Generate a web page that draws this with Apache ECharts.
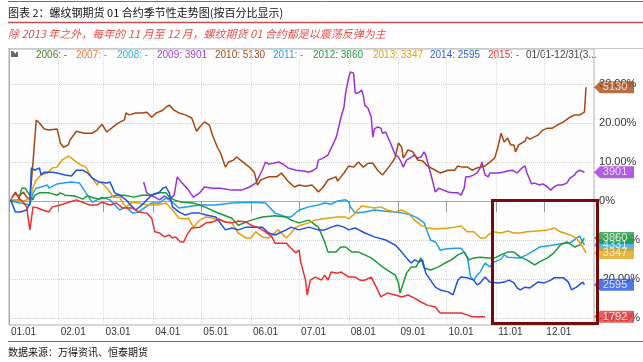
<!DOCTYPE html>
<html><head><meta charset="utf-8">
<script src="https://cdn.jsdelivr.net/npm/echarts@6/dist/echarts.min.js"></script>
<style>html,body{margin:0;padding:0;background:#fff;}#c{width:643px;height:362px;}</style>
</head><body><div id="c"></div>
<script>
// ---------- data ----------
const monthLabels = ['01.01','02.01','03.01','04.01','05.01','06.01','07.01','08.01','09.01','10.01','11.01','12.01'];
const monthStartDays = [0,31,59,90,120,151,181,212,243,273,304,334];
const yTickValues = [-30,-20,-10,0,10,20,30];
const legendYears = ['2006','2007','2008','2009','2010','2011','2012','2013','2014','2015'];
const legendValues = ['-','-','-','3901','5130','-','3860','3347','2595','-'];
const seriesYears = ['2009','2010','2011','2012','2013','2014','2015'];
const lastPrices = ['3901','5130','4331','3860','3347','2595','1792'];

const s2009 = [[84,4.9],[86,2.1],[88,1.5],[91,1.0],[94,0.3],[97,1.3],[100,0.5],[103,1.5],[105,6.2],[108,4.6],[112,2.8],[115,1.0],[119,2.1],[122,3.6],[127,3.3],[132,3.3],[139,2.8],[145,2.8],[150,3.6],[154,4.6],[158,7.9],[160,10.0],[162,9.5],[165,9.7],[168,10.0],[171,9.5],[174,8.5],[179,7.9],[184,7.7],[187,7.4],[190,7.9],[192,8.5],[193,10.5],[196,11.0],[199,11.8],[202,14.4],[204,16.2],[205,17.7],[207,21.3],[209,24.1],[210,27.7],[212,31.8],[213,33.1],[214,33.6],[215,32.8],[216,27.7],[218,27.7],[219,27.9],[220,28.5],[221,27.2],[222,24.6],[224,23.8],[226,21.5],[227,16.4],[228,18.5],[230,19.0],[232,18.7],[233,17.4],[235,17.7],[238,14.9],[241,11.8],[243,11.3],[245,9.7],[246,8.7],[248,10.5],[250,11.0],[251,10.8],[253,11.8],[255,11.0],[257,11.3],[259,12.6],[260,11.8],[263,7.2],[266,2.3],[268,3.3],[269,3.1],[274,2.3],[277,2.1],[280,2.1],[282,1.5],[284,3.3],[285,6.2],[287,6.2],[290,6.7],[292,7.2],[294,8.5],[295,10.0],[297,6.7],[299,6.2],[300,7.2],[305,7.2],[308,7.4],[311,7.7],[314,7.9],[317,7.2],[320,8.5],[322,9.0],[323,7.4],[326,4.4],[328,4.6],[331,4.1],[333,4.4],[336,3.6],[338,2.8],[340,3.6],[342,4.1],[345,4.1],[348,4.6],[350,5.9],[353,6.7],[354,7.4],[356,7.9],[359,7.4]];

const s2010 = [[2,1.0],[4,2.3],[5,1.5],[7,1.5],[9,2.3],[11,1.0],[13,0.5],[14,0.3],[15,10.0],[17,20.8],[19,20.0],[22,18.5],[25,18.2],[30,18.5],[31,16.9],[32,14.9],[34,13.8],[37,14.4],[38,15.6],[42,17.9],[47,17.4],[52,17.4],[55,18.2],[58,19.7],[61,17.7],[64,18.7],[68,20.0],[72,20.8],[73,22.6],[75,22.1],[79,22.6],[83,22.6],[86,22.8],[89,21.5],[92,22.6],[96,23.3],[98,24.1],[100,24.6],[103,23.3],[106,22.6],[110,22.1],[114,21.3],[117,17.9],[119,19.0],[122,20.3],[125,19.5],[127,16.9],[130,13.8],[132,12.3],[135,8.7],[137,10.0],[140,10.5],[142,11.3],[145,10.3],[150,8.7],[153,7.4],[155,4.1],[157,5.4],[162,6.2],[167,6.2],[170,7.2],[174,5.1],[178,3.6],[181,4.1],[185,3.8],[189,4.1],[191,3.3],[193,2.3],[196,3.6],[199,5.4],[204,6.2],[205,5.1],[209,7.2],[212,9.0],[215,8.7],[218,10.0],[221,8.7],[224,9.7],[227,9.7],[230,7.9],[233,6.7],[236,8.2],[240,10.5],[241,11.3],[243,14.9],[245,13.8],[246,11.0],[249,13.1],[252,12.6],[255,10.5],[258,10.3],[261,9.0],[266,7.9],[269,7.2],[274,7.9],[278,7.9],[280,9.0],[283,8.7],[286,8.7],[289,7.9],[292,8.5],[297,9.0],[300,10.0],[303,11.0],[305,13.8],[307,17.4],[309,15.1],[311,16.2],[313,14.4],[315,14.4],[316,12.6],[318,14.4],[322,15.4],[323,16.4],[325,15.9],[330,16.9],[333,18.2],[336,18.7],[339,18.7],[342,19.5],[346,20.3],[350,21.5],[353,22.1],[356,22.1],[359,22.8],[360,29.2]];

const s2011 = [[1,0],[7,-0.5],[13,-1.0],[15,2.1],[17,3.3],[20,3.6],[24,4.1],[25,3.3],[30,4.4],[34,4.6],[39,4.9],[44,4.6],[48,2.1],[52,-0.3],[55,0.3],[58,1.0],[63,0.3],[69,-2.3],[73,-1.5],[77,-3.1],[81,-2.8],[86,-1.3],[89,-0.5],[94,-0.5],[98,0.8],[102,-0.3],[106,-1.8],[119,-1.0],[129,-1.0],[139,-0.5],[151,-0.3],[160,-0.5],[166,-3.1],[173,-4.1],[176,-4.1],[181,-2.3],[187,-1.5],[193,-1.0],[197,-0.5],[201,-0.8],[205,0],[210,0.3],[212,-0.3],[213,-1.5],[216,-3.1],[222,-2.8],[228,-2.3],[235,-2.6],[241,-2.8],[246,-3.1],[251,-3.6],[255,-4.4],[259,-5.6],[261,-7.9],[263,-10.0],[266,-10.5],[268,-11.8],[269,-12.6],[272,-12.3],[278,-12.1],[282,-12.1],[284,-13.1],[286,-14.6],[287,-16.9],[288,-19.5],[290,-20.3],[292,-19.0],[294,-18.2],[297,-15.9],[300,-16.9],[303,-15.6],[307,-14.9],[309,-13.8],[311,-14.4],[319,-14.6],[323,-13.8],[328,-12.6],[331,-11.8],[340,-11.3],[346,-10.8],[350,-10.8],[354,-9.5],[356,-9.0],[359,-11.3]];

const s2012 = [[1,0],[6,0.3],[8,3.3],[10,3.3],[12,2.1],[15,0.3],[16,1.5],[19,2.1],[25,2.1],[30,1.5],[32,2.1],[35,1.5],[41,1.3],[44,0.8],[46,0.5],[49,1.3],[53,0.8],[56,0.5],[63,1.0],[67,1.5],[72,1.5],[78,1.0],[83,1.5],[88,1.5],[94,2.1],[98,2.1],[100,1.0],[103,0.3],[108,-0.3],[115,-0.5],[122,-1.5],[129,-2.8],[139,-4.4],[143,-6.2],[151,-4.9],[158,-4.1],[166,-3.8],[173,-4.1],[176,-4.9],[181,-5.6],[187,-4.9],[193,-6.7],[197,-10.5],[199,-13.1],[204,-13.1],[207,-11.8],[210,-11.8],[214,-13.1],[218,-13.1],[222,-13.8],[226,-14.6],[230,-15.9],[233,-16.9],[236,-17.7],[241,-19.0],[243,-21.0],[244,-23.6],[246,-21.0],[248,-18.5],[251,-16.9],[254,-16.9],[257,-14.6],[259,-17.2],[263,-17.7],[268,-16.9],[272,-15.9],[276,-15.1],[280,-13.8],[284,-13.1],[287,-15.1],[290,-14.6],[294,-14.4],[299,-14.6],[303,-14.6],[307,-13.8],[311,-13.1],[315,-13.1],[319,-14.4],[323,-15.1],[328,-16.4],[331,-15.6],[336,-14.6],[340,-13.3],[344,-11.3],[348,-10.5],[353,-11.8],[356,-11.3],[359,-9.5]];

const s2013 = [[2,0.3],[9,0],[13,0.5],[15,3.6],[17,5.4],[20,6.7],[24,7.2],[27,8.5],[30,8.7],[33,10.5],[35,11.0],[37,11.5],[39,11.0],[42,10.0],[45,9.2],[48,8.7],[50,7.2],[52,5.9],[55,4.1],[56,4.9],[58,4.6],[61,3.3],[63,2.3],[65,1.0],[69,1.0],[71,-0.5],[73,-1.5],[77,-0.3],[81,-0.5],[86,-1.0],[92,-1.0],[98,-0.5],[102,-2.3],[106,-4.4],[110,-4.6],[112,-4.4],[115,-6.7],[119,-4.9],[123,-4.1],[127,-4.4],[131,-4.9],[135,-5.4],[139,-5.6],[143,-8.2],[148,-9.5],[151,-9.5],[154,-7.9],[158,-9.2],[162,-9.5],[168,-7.4],[173,-9.5],[176,-8.2],[179,-6.7],[182,-6.2],[187,-5.6],[191,-4.9],[195,-4.6],[199,-4.4],[205,-4.1],[210,-4.1],[212,-4.6],[216,-3.1],[220,-1.3],[224,-1.5],[228,-1.8],[232,-1.5],[236,-2.3],[241,-2.8],[245,-2.3],[249,-3.1],[253,-4.9],[257,-6.2],[261,-6.9],[266,-7.2],[274,-6.9],[278,-6.7],[282,-6.4],[286,-7.9],[290,-7.9],[294,-9.5],[297,-9.5],[299,-8.7],[302,-7.9],[307,-8.2],[311,-7.7],[315,-8.2],[319,-8.2],[323,-7.9],[330,-7.7],[336,-7.4],[340,-6.9],[344,-7.9],[350,-8.7],[354,-9.5],[358,-11.8],[360,-13.3]];

const s2014 = [[1,0.3],[4,-2.8],[7,-2.8],[11,-2.3],[13,-0.5],[14,8.5],[16,7.9],[19,8.5],[20,6.7],[22,7.4],[27,7.4],[30,7.2],[35,6.7],[39,6.4],[42,7.9],[46,7.9],[49,7.2],[52,5.9],[53,5.4],[56,4.9],[61,4.6],[63,4.9],[66,2.1],[69,1.5],[73,0.3],[77,-1.5],[79,-2.3],[83,-1.0],[86,0.3],[89,1.5],[94,2.3],[96,3.3],[98,3.6],[100,2.1],[102,-1.5],[106,-2.8],[110,-3.6],[114,-3.1],[119,-3.1],[123,-3.6],[129,-4.1],[135,-7.4],[139,-6.9],[143,-7.4],[148,-6.7],[158,-6.7],[162,-8.2],[166,-8.7],[173,-7.4],[176,-6.7],[181,-7.4],[187,-6.7],[193,-7.4],[197,-7.4],[201,-6.7],[205,-6.2],[209,-6.7],[212,-7.4],[216,-6.9],[222,-8.2],[228,-9.2],[235,-10.0],[241,-11.3],[245,-13.1],[249,-15.1],[251,-15.9],[253,-15.1],[256,-15.6],[258,-15.1],[260,-18.5],[263,-20.3],[266,-22.1],[269,-22.8],[274,-23.3],[277,-24.1],[280,-20.3],[282,-19.5],[286,-19.7],[290,-20.3],[292,-21.5],[294,-21.0],[297,-19.5],[300,-20.8],[305,-21.0],[309,-20.8],[312,-20.3],[315,-21.0],[317,-22.3],[319,-22.8],[322,-22.1],[325,-22.3],[330,-20.8],[334,-21.0],[338,-20.3],[340,-19.7],[346,-19.7],[349,-20.8],[351,-22.8],[354,-22.1],[358,-20.8],[359,-21.5]];

const s2015 = [[1,0.3],[4,2.1],[6,0.8],[9,-0.3],[11,-1.5],[13,-7.4],[15,-1.5],[18,-1.8],[21,-2.3],[25,-2.8],[27,-1.5],[32,-1.0],[36,-0.5],[42,0.3],[46,-0.3],[50,-1.0],[55,-1.0],[58,-0.3],[63,-1.0],[67,-0.5],[71,-1.8],[77,-1.8],[81,-2.8],[86,-3.1],[89,-4.4],[91,-7.9],[94,-8.2],[97,-9.2],[100,-8.7],[102,-9.5],[104,-9.2],[107,-10.5],[109,-10.5],[111,-8.7],[114,-6.9],[119,-6.7],[123,-5.6],[127,-5.4],[131,-4.6],[135,-5.4],[139,-5.6],[143,-5.1],[148,-5.4],[151,-6.2],[156,-6.9],[160,-7.9],[164,-9.2],[166,-10.8],[173,-10.8],[176,-12.1],[179,-13.3],[181,-12.6],[182,-15.6],[185,-20.3],[186,-24.1],[188,-20.3],[191,-19.5],[195,-20.3],[197,-19.0],[199,-20.3],[201,-18.2],[205,-18.5],[207,-18.2],[212,-19.5],[216,-19.5],[219,-20.3],[222,-20.3],[226,-19.5],[230,-22.8],[232,-24.6],[236,-23.6],[241,-24.1],[245,-24.6],[249,-24.1],[253,-24.9],[257,-25.9],[261,-26.7],[266,-27.2],[269,-28.7],[274,-28.7],[282,-28.7],[286,-29.2],[289,-29.7],[297,-29.7]];

const seriesData = [s2009, s2010, s2011, s2012, s2013, s2014, s2015];

// ---------- styling ----------
const legendColors = ['#4d7a24','#f07a30','#2fb5c8','#a23fd2','#a34a14','#2c9fe6','#1f9a45','#dba21c','#2f5fe0','#ee3535'];
const lineColors  = ['#9a30d8','#a5470f','#1ea0e8','#1a9a3a','#e0a010','#2050e0','#e83030'];
const legendX = [36,76,117,157,215,273,313,373,430,488];

const chart = echarts.init(document.getElementById('c'), null, {renderer:'canvas'});

const series = seriesYears.map((y,i)=>{
  const d = seriesData[i];
  const last = d[d.length-1];
  return {
    name:y, type:'line', data:d, showSymbol:false, symbol:'none', clip:false,
    lineStyle:{width:1.5, color:lineColors[i]}, itemStyle:{color:lineColors[i]},
    z: 3,
    markPoint:{
      symbol:'path://M0,6 L6,0 L40,0 L40,12 L6,12 Z',
      symbolSize:[40,12], symbolKeepAspect:false, symbolOffset:[20,0],
      itemStyle:{color:lineColors[i], opacity:0.78},
      label:{show:true, position:'inside', offset:[1,0], color:'#fff', fontSize:11, fontFamily:'Liberation Sans', formatter: ()=>lastPrices[i]},
      data:[{coord:[365,last[1]]}],
      z: 10, silent:true, animation:false
    }
  };
});

const graphics = [];
graphics.push({type:'line', shape:{x1:8,y1:1.5,x2:643,y2:1.5}, style:{stroke:'#c0504d', lineWidth:1}});
graphics.push({type:'text', x:8, y:13, style:{text:'图表 2：螺纹钢期货 01 合约季节性走势图(按百分比显示)', fill:'#111', font:'11px "Noto Sans CJK SC"', verticalAlign:'middle'}});
graphics.push({type:'line', shape:{x1:8,y1:22.5,x2:643,y2:22.5}, style:{stroke:'#c0504d', lineWidth:1.5}});
graphics.push({type:'text', x:8, y:34, style:{text:'除 2013 年之外，每年的 11 月至 12 月，螺纹期货 01 合约都是以震荡反弹为主', fill:'#e0504a', font:'italic 11px "Noto Sans CJK SC"', verticalAlign:'middle'}});
graphics.push({type:'line', shape:{x1:8,y1:48.5,x2:643,y2:48.5}, style:{stroke:'#c8c8c8', lineWidth:1}});
graphics.push({type:'line', shape:{x1:8,y1:341.5,x2:643,y2:341.5}, style:{stroke:'#c0504d', lineWidth:1.2}});
graphics.push({type:'text', x:8, y:352, style:{text:'数据来源：万得资讯、恒泰期货', fill:'#111', font:'10px "Noto Sans CJK SC"', verticalAlign:'middle'}});
graphics.push({type:'polygon', shape:{points:[[11,51],[13,51],[16,54],[16,52],[18,52],[18,57],[11,57]]}, style:{fill:'#666'}});
legendYears.forEach((y,i)=>{
  graphics.push({type:'text', x:legendX[i], y:55, style:{text:y+': '+legendValues[i], fill:legendColors[i], font:'10px "Liberation Sans"', verticalAlign:'middle'}});
});
graphics.push({type:'text', x:526, y:55, style:{text:'01/01-12/31(3...', fill:'#444', font:'10px "Liberation Sans"', verticalAlign:'middle'}});
graphics.push({type:'rect', shape:{x:492.5,y:200.5,width:105,height:123}, style:{fill:'none', stroke:'#7a0a0a', lineWidth:3}, z:100});

chart.setOption({
  animation:false,
  backgroundColor:'#fff',
  grid:{left:9, right:46, top:49, bottom:37, show:true, borderColor:'#b0b0b0', borderWidth:1, backgroundColor:'#fdfdfd'},
  xAxis:{
    type:'value', min:0, max:365,
    axisLine:{show:true, lineStyle:{color:'#aaa'}},
    axisTick:{show:true, customValues:monthStartDays, length:11, lineStyle:{color:'#999'}},
    axisLabel:{customValues:monthStartDays, formatter:(v)=>monthLabels[monthStartDays.indexOf(v)], align:'left', margin:2, padding:[0,0,0,2], color:'#333', fontSize:10, fontFamily:'Liberation Sans'},
    splitLine:{show:true, lineStyle:{color:'#dcdcdc', type:'dotted'}}
  },
  yAxis:{
    type:'value', position:'right', min:-31.8, max:39,
    axisLine:{show:true, lineStyle:{color:'#aaa'}},
    axisTick:{show:false, customValues:yTickValues},
    axisLabel:{customValues:yTickValues, formatter:(v)=> v===0 ? '0%' : v.toFixed(2)+'%', margin:5, color:'#333', fontSize:11, fontFamily:'Liberation Sans'},
    splitLine:{show:true, lineStyle:{color:'#d0d0d0', type:'dotted'}}
  },
  series: series,
  graphic: graphics
});
</script>
</body></html>
